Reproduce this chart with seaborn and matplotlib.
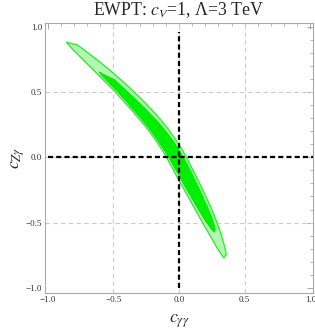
import numpy as np
import pandas as pd
import matplotlib
matplotlib.use("Agg")
import matplotlib.pyplot as plt
from matplotlib.ticker import MultipleLocator
import seaborn as sns

# ---- data (data coordinates) ----
# outer (light) region: upper/right edge from top tip to bottom tip
outer_right_x = [-0.856, -0.776, -0.722, -0.624, -0.531, -0.443, -0.360, -0.282, -0.209, -0.141,
                 -0.080, -0.025, 0.022, 0.065, 0.103, 0.141, 0.178, 0.214, 0.248, 0.279,
                 0.307, 0.331, 0.352, 0.360, 0.342]
outer_right_y = [0.882, 0.863, 0.824, 0.748, 0.672, 0.595, 0.519, 0.443, 0.366, 0.290,
                 0.214, 0.137, 0.061, -0.015, -0.092, -0.168, -0.244, -0.321, -0.397, -0.473,
                 -0.550, -0.626, -0.702, -0.740, -0.771]
# outer region: lower/left edge from bottom tip back to top tip
outer_left_x = [0.319, 0.294, 0.251, 0.207, 0.164, 0.122, 0.080, 0.037, -0.005, -0.046,
                -0.087, -0.131, -0.181, -0.237, -0.298, -0.364, -0.433, -0.502, -0.578, -0.654,
                -0.730, -0.806, -0.840]
outer_left_y = [-0.740, -0.702, -0.626, -0.550, -0.473, -0.397, -0.321, -0.244, -0.168, -0.092,
                -0.015, 0.061, 0.137, 0.214, 0.290, 0.366, 0.443, 0.519, 0.595, 0.672,
                0.748, 0.824, 0.863]
# inner (dark) region
inner_right_x = [-0.605, -0.570, -0.490, -0.409, -0.328, -0.250, -0.177, -0.111, -0.053, -0.002,
                 0.042, 0.082, 0.119, 0.155, 0.190, 0.223, 0.253, 0.266, 0.276, 0.268]
inner_right_y = [0.653, 0.634, 0.595, 0.519, 0.443, 0.366, 0.290, 0.214, 0.137, 0.061,
                 -0.015, -0.092, -0.168, -0.244, -0.321, -0.397, -0.473, -0.511, -0.550, -0.573]
inner_left_x = [0.252, 0.218, 0.192, 0.146, 0.102, 0.058, 0.015, -0.027, -0.070, -0.116,
                -0.166, -0.222, -0.282, -0.347, -0.414, -0.483, -0.555, -0.593]
inner_left_y = [-0.557, -0.511, -0.473, -0.397, -0.321, -0.244, -0.168, -0.092, -0.015, 0.061,
                0.137, 0.214, 0.290, 0.366, 0.443, 0.519, 0.595, 0.634]

major_ticks = [-1.0, -0.5, 0.0, 0.5, 1.0]
tick_labels = ["\u22121.0", "\u22120.5", "0.0", "0.5", "1.0"]
title = "EWPT: $c_V$=1, \u039b=3 TeV"
xlabel = r"$c_{\gamma\gamma}$"
ylabel = r"$c_{Z\gamma}$"

# ---- style ----
sns.set_theme(style="white")
plt.rcParams["font.family"] = ["Liberation Serif", "DejaVu Serif"]
plt.rcParams["mathtext.fontset"] = "stix"

fig = plt.figure(figsize=(3.15, 3.31), dpi=100)
ax = fig.add_axes([45 / 315, 1 - 293 / 331, (313 - 45) / 315, (293 - 23) / 331])

outer_x = outer_right_x + outer_left_x + [outer_right_x[0]]
outer_y = outer_right_y + outer_left_y + [outer_right_y[0]]
inner_x = inner_right_x + inner_left_x + [inner_right_x[0]]
inner_y = inner_right_y + inner_left_y + [inner_right_y[0]]

ax.fill(outer_x, outer_y, color="#b4f5b4", lw=0, zorder=2)
ax.fill(inner_x, inner_y, color="#00ee00", lw=0, zorder=3)
sns.lineplot(x=outer_x, y=outer_y, sort=False, estimator=None, color="#22ee22",
             lw=0.9, ax=ax, zorder=4)
sns.lineplot(x=inner_x, y=inner_y, sort=False, estimator=None, color="#00e400",
             lw=0.6, ax=ax, zorder=4)

# grid
for v in [-0.5, 0.0, 0.5]:
    ax.axvline(v, color="#cccccc", lw=0.8, ls=(0, (4, 3)), zorder=1)
    ax.axhline(v, color="#cccccc", lw=0.8, ls=(0, (4, 3)), zorder=1)

# black dashed axes lines
ax.axvline(0, ymin=0.02, ymax=0.967, color="black", lw=1.6, ls=(0, (2.3, 1.4)), zorder=5)
ax.axhline(0, xmin=0.01, xmax=1.0, color="black", lw=1.6, ls=(0, (2.3, 1.4)), zorder=5)

ax.set_xlim(-1.02, 1.02)
ax.set_ylim(-1.04, 1.03)
ax.set_xticks(major_ticks)
ax.set_yticks(major_ticks)
ax.set_xticklabels(tick_labels)
ax.set_yticklabels(tick_labels)
ax.xaxis.set_minor_locator(MultipleLocator(0.1))
ax.yaxis.set_minor_locator(MultipleLocator(0.1))
ax.tick_params(which="major", direction="in", length=4, width=0.6, color="#999999",
               top=True, right=True, labelsize=6.5, labelcolor="#333333", pad=2)
ax.tick_params(which="minor", direction="in", length=2.2, width=0.5, color="#999999",
               top=True, right=True)
for s in ax.spines.values():
    s.set_color("#aaaaaa")
    s.set_linewidth(0.8)

ax.set_title(title, fontsize=12.8, pad=5.5)
ax.set_xlabel(xlabel, fontsize=13, labelpad=6)
ax.set_ylabel(ylabel, fontsize=13, labelpad=-0.5)

fig.savefig("out.png", dpi=100)
